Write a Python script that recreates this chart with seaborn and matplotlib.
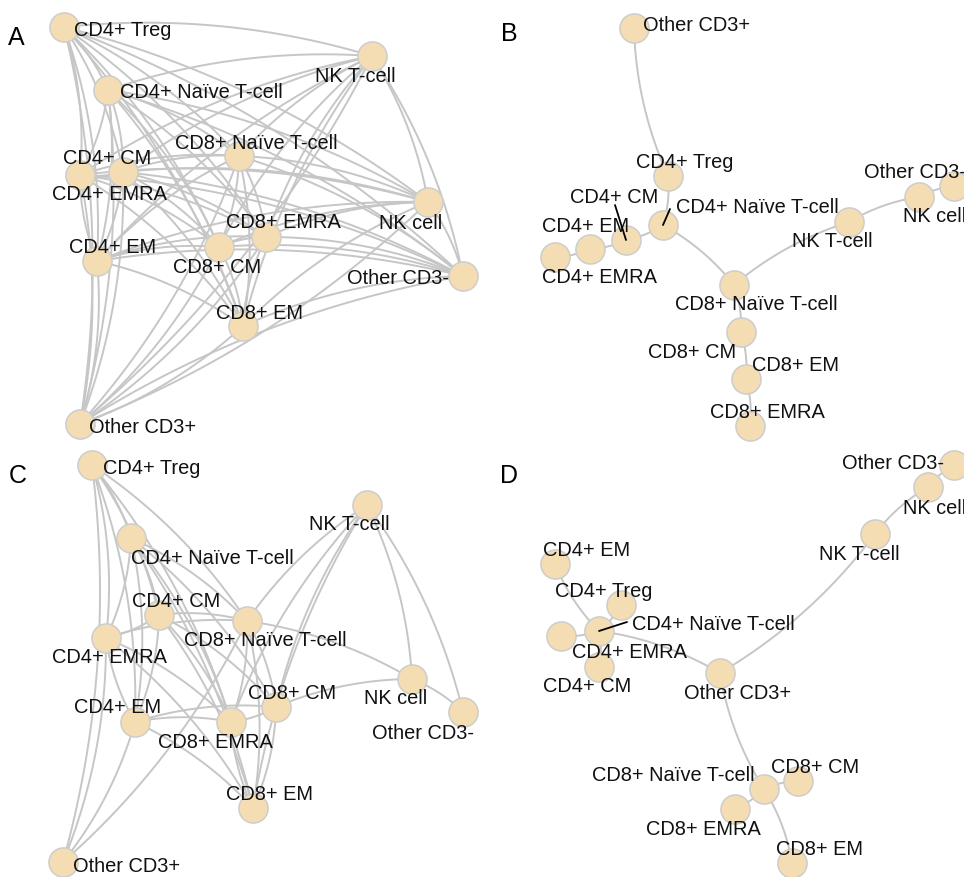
import numpy as np
import pandas as pd
import matplotlib
matplotlib.use("Agg")
import matplotlib.pyplot as plt
import seaborn as sns

sns.set_theme(style="white")
plt.rcParams['font.family'] = ['Liberation Sans', 'DejaVu Sans']

# ---------------- data ----------------
NODES = ["CD4+ Treg", "CD4+ Naïve T-cell", "CD4+ CM", "CD4+ EM", "CD4+ EMRA",
         "CD8+ Naïve T-cell", "CD8+ CM", "CD8+ EM", "CD8+ EMRA",
         "NK T-cell", "NK cell", "Other CD3+", "Other CD3-"]
PANELS = ["A", "B", "C", "D"]

# node layouts (pixel space of the figure, y downward), aligned with NODES
A_x = [64, 108, 123, 97, 80, 239, 219, 243, 266, 372, 428, 80, 463]
A_y = [28, 91, 173, 262, 176, 157, 248, 327, 238, 57, 203, 425, 277]
B_x = [668, 663, 626, 590, 555, 734, 741, 746, 750, 849, 919, 634, 954]
B_y = [177, 226, 241, 250, 258, 286, 333, 380, 427, 223, 198, 29, 187]
C_x = [92, 131, 159, 135, 106, 247, 276, 253, 231, 367, 412, 63, 463]
C_y = [466, 539, 616, 723, 639, 622, 708, 809, 723, 506, 680, 863, 713]
D_x = [621, 599, 599, 555, 561, 764, 798, 792, 735, 875, 928, 720, 954]
D_y = [606, 632, 668, 565, 637, 790, 782, 864, 810, 535, 488, 674, 466]

# label centres
A_lx = [123, 201, 107, 113, 109, 256, 217, 259, 283, 355, 411, 143, 398]
A_ly = [29, 91, 157, 246, 193, 142, 266, 312, 221, 75, 222, 426, 277]
B_lx = [685, 757, 614, 586, 600, 756, 692, 795, 767, 832, 935, 697, 915]
B_ly = [161, 206, 196, 225, 276, 303, 351, 364, 411, 240, 215, 24, 171]
C_lx = [152, 212, 176, 118, 110, 265, 292, 270, 215, 349, 396, 127, 423]
C_ly = [467, 557, 600, 706, 656, 639, 692, 793, 741, 523, 697, 865, 732]
D_lx = [604, 713, 587, 587, 629, 673, 815, 820, 703, 859, 935, 738, 893]
D_ly = [590, 623, 685, 549, 651, 774, 766, 848, 828, 553, 507, 692, 462]

# panel letter positions
LETTER_X = [16, 509, 18, 509]
LETTER_Y = [37, 33, 475, 475]

# edges
A_edges = [(NODES[i], NODES[j]) for i in range(len(NODES)) for j in range(i + 1, len(NODES))]
B_edges = [("CD4+ Treg", "Other CD3+"), ("CD4+ Treg", "CD4+ Naïve T-cell"),
           ("CD4+ Naïve T-cell", "CD4+ CM"), ("CD4+ CM", "CD4+ EM"), ("CD4+ EM", "CD4+ EMRA"),
           ("CD4+ Naïve T-cell", "CD8+ Naïve T-cell"), ("CD8+ Naïve T-cell", "NK T-cell"),
           ("NK T-cell", "NK cell"), ("NK cell", "Other CD3-"),
           ("CD8+ Naïve T-cell", "CD8+ CM"), ("CD8+ CM", "CD8+ EM"), ("CD8+ EM", "CD8+ EMRA")]
C_edges = [("CD4+ Treg", "CD4+ Naïve T-cell"), ("CD4+ Treg", "CD4+ CM"), ("CD4+ Treg", "CD4+ EMRA"),
           ("CD4+ Treg", "CD4+ EM"), ("CD4+ Treg", "CD8+ Naïve T-cell"), ("CD4+ Treg", "CD8+ EMRA"),
           ("CD4+ Treg", "Other CD3+"),
           ("CD4+ Naïve T-cell", "CD4+ EMRA"), ("CD4+ Naïve T-cell", "CD4+ CM"),
           ("CD4+ Naïve T-cell", "CD4+ EM"), ("CD4+ Naïve T-cell", "CD8+ Naïve T-cell"),
           ("CD4+ Naïve T-cell", "CD8+ EMRA"), ("CD4+ Naïve T-cell", "CD8+ CM"),
           ("CD4+ Naïve T-cell", "CD8+ EM"),
           ("CD4+ CM", "CD4+ EMRA"), ("CD4+ CM", "CD8+ Naïve T-cell"), ("CD4+ CM", "CD4+ EM"),
           ("CD4+ CM", "CD8+ EMRA"), ("CD4+ CM", "CD8+ EM"), ("CD4+ CM", "CD8+ CM"),
           ("CD4+ EMRA", "CD8+ Naïve T-cell"), ("CD4+ EM", "CD4+ EMRA"),
           ("CD4+ EMRA", "CD8+ EMRA"), ("CD4+ EMRA", "CD8+ EM"), ("CD4+ EMRA", "Other CD3+"),
           ("CD4+ EM", "CD8+ EMRA"), ("CD4+ EM", "CD8+ CM"), ("CD4+ EM", "CD8+ EM"),
           ("CD4+ EM", "Other CD3+"),
           ("CD8+ Naïve T-cell", "CD8+ EMRA"), ("CD8+ Naïve T-cell", "CD8+ CM"),
           ("CD8+ Naïve T-cell", "CD8+ EM"), ("CD8+ Naïve T-cell", "NK T-cell"),
           ("CD8+ Naïve T-cell", "NK cell"), ("CD8+ Naïve T-cell", "Other CD3+"),
           ("CD8+ CM", "CD8+ EMRA"), ("CD8+ EM", "CD8+ EMRA"), ("CD8+ EMRA", "NK T-cell"),
           ("CD8+ CM", "CD8+ EM"), ("CD8+ CM", "NK T-cell"), ("CD8+ CM", "NK cell"),
           ("CD8+ EM", "NK T-cell"),
           ("NK T-cell", "NK cell"), ("NK T-cell", "Other CD3-"), ("NK cell", "Other CD3-")]
D_edges = [("NK cell", "Other CD3-"), ("NK T-cell", "NK cell"), ("NK T-cell", "Other CD3+"),
           ("CD4+ Naïve T-cell", "Other CD3+"), ("CD4+ Naïve T-cell", "CD4+ EM"),
           ("CD4+ Treg", "CD4+ Naïve T-cell"), ("CD4+ Naïve T-cell", "CD4+ EMRA"),
           ("CD4+ Naïve T-cell", "CD4+ CM"), ("CD8+ Naïve T-cell", "Other CD3+"),
           ("CD8+ Naïve T-cell", "CD8+ CM"), ("CD8+ Naïve T-cell", "CD8+ EMRA"),
           ("CD8+ Naïve T-cell", "CD8+ EM")]

# label leader lines: (panel, node, end x, end y)
LEADERS = [("B", "CD4+ CM", 615, 206), ("B", "CD4+ Naïve T-cell", 670, 210),
           ("D", "CD4+ Naïve T-cell", 627, 623)]

layouts = {"A": (A_x, A_y, A_lx, A_ly, A_edges),
           "B": (B_x, B_y, B_lx, B_ly, B_edges),
           "C": (C_x, C_y, C_lx, C_ly, C_edges),
           "D": (D_x, D_y, D_lx, D_ly, D_edges)}

node_df = pd.concat([pd.DataFrame({"panel": p, "node": NODES,
                                   "x": layouts[p][0], "y": layouts[p][1]})
                     for p in PANELS], ignore_index=True)

# ---------------- drawing ----------------
fig = plt.figure(figsize=(9.64, 8.78), dpi=100)
ax = fig.add_axes([0, 0, 1, 1])

EDGE_COL = "#C6C6C6"
NODE_COL = "#F4DDB2"
NODE_EDGE = "#CDCDCD"


def curve(p0, p1, k=0.1, n=50):
    d = p1 - p0
    perp = np.array([d[1], -d[0]])
    c = (p0 + p1) / 2 + k * perp
    t = np.linspace(0, 1, n)[:, None]
    return (1 - t) ** 2 * p0 + 2 * (1 - t) * t * c + t ** 2 * p1


for p in PANELS:
    sub = node_df[node_df.panel == p].set_index("node")
    edges = layouts[p][4]
    for a, b in edges:
        ia, ib = NODES.index(a), NODES.index(b)
        if ia > ib:
            a, b = b, a
        p0 = sub.loc[a, ["x", "y"]].to_numpy(float)
        p1 = sub.loc[b, ["x", "y"]].to_numpy(float)
        pts = curve(p0, p1)
        ax.plot(pts[:, 0], pts[:, 1], color=EDGE_COL, lw=1.4, zorder=1,
                solid_capstyle="round")

sns.scatterplot(data=node_df, x="x", y="y", s=440, color=NODE_COL,
                edgecolor=NODE_EDGE, linewidth=1.1, ax=ax, zorder=3, legend=False)

for p in PANELS:
    sub = node_df[node_df.panel == p].set_index("node")
    lx, ly = layouts[p][2], layouts[p][3]
    for name, tx, ty in zip(NODES, lx, ly):
        ax.text(tx, ty + 7, name, ha="center", va="baseline", fontsize=14.4,
                color="#111111", zorder=4)

for p, nm, ex, ey in LEADERS:
    sub = node_df[node_df.panel == p].set_index("node")
    x0, y0 = sub.loc[nm, "x"], sub.loc[nm, "y"]
    ax.plot([x0, ex], [y0, ey], color="black", lw=1.3, zorder=5)

for p, lx_, ly_ in zip(PANELS, LETTER_X, LETTER_Y):
    ax.text(lx_, ly_ + 8, p, ha="center", va="baseline", fontsize=18, color="black")

ax.set_xlim(0, 964)
ax.set_ylim(878, 0)
ax.axis("off")

fig.savefig("out.png", dpi=100, facecolor="white")
